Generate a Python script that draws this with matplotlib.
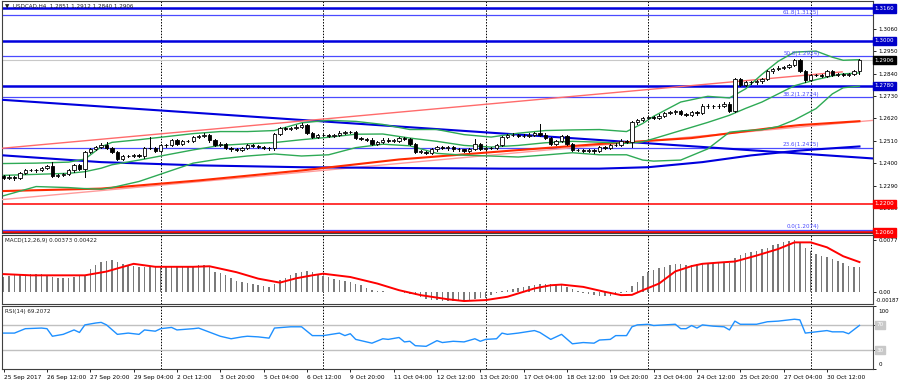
import matplotlib
matplotlib.use('Agg')
import matplotlib.pyplot as plt

# ---- H4 candles, bar 0 = 25 Sep 04:00 ----
first_open = 1.2335
closes = [
    1.2329, 1.2333, 1.2325, 1.2351, 1.2367, 1.2367, 1.2364, 1.2377, 1.2384, 1.2335,
    1.2343, 1.2348, 1.2364, 1.2389, 1.2373, 1.2454, 1.2470, 1.2478, 1.2491, 1.2475,
    1.2454, 1.2421, 1.2433, 1.2436, 1.2438, 1.2433, 1.2475, 1.2475, 1.2462, 1.2487,
    1.2487, 1.2512, 1.2496, 1.2508, 1.2508, 1.2529, 1.2534, 1.2540, 1.2512, 1.2491,
    1.2496, 1.2475, 1.2468, 1.2464, 1.2475, 1.2488, 1.2483, 1.2480, 1.2476, 1.2472,
    1.2545, 1.2573, 1.2570, 1.2573, 1.2579, 1.2589, 1.2550, 1.2529, 1.2537, 1.2537,
    1.2534, 1.2537, 1.2550, 1.2553, 1.2552, 1.2522, 1.2519, 1.2516, 1.2495, 1.2503,
    1.2516, 1.2511, 1.2511, 1.2522, 1.2519, 1.2495, 1.2457, 1.2457, 1.2451, 1.2467,
    1.2478, 1.2473, 1.2478, 1.2467, 1.2467, 1.2462, 1.2470, 1.2495, 1.2470, 1.2473,
    1.2473, 1.2487, 1.2527, 1.2539, 1.2538, 1.2534, 1.2535, 1.2540, 1.2547, 1.2540,
    1.2524, 1.2495, 1.2508, 1.2531, 1.2495, 1.2465, 1.2465, 1.2462, 1.2465, 1.2459,
    1.2478, 1.2475, 1.2487, 1.2491, 1.2511, 1.2503, 1.2600, 1.2612, 1.2622, 1.2625,
    1.2622, 1.2633, 1.2644, 1.2649, 1.2654, 1.2640, 1.2636, 1.2652, 1.2644, 1.2682,
    1.2679, 1.2679, 1.2682, 1.2690, 1.2658, 1.2813, 1.2785, 1.2796, 1.2796, 1.2801,
    1.2813, 1.2850, 1.2862, 1.2869, 1.2873, 1.2883, 1.2906, 1.2853, 1.2808, 1.2834,
    1.2832, 1.2830, 1.2850, 1.2832, 1.2837, 1.2834, 1.2837, 1.2851, 1.2906]
highs = [
    1.2342, 1.2340, 1.2338, 1.2356, 1.2372, 1.2373, 1.2372, 1.2382, 1.2390, 1.2405,
    1.2348, 1.2353, 1.2370, 1.2395, 1.2398, 1.2460, 1.2476, 1.2485, 1.2497, 1.2503,
    1.2480, 1.2458, 1.2438, 1.2441, 1.2443, 1.2443, 1.2480, 1.2527, 1.2480, 1.2492,
    1.2494, 1.2518, 1.2518, 1.2513, 1.2514, 1.2535, 1.2540, 1.2546, 1.2545, 1.2517,
    1.2502, 1.2501, 1.2480, 1.2473, 1.2480, 1.2493, 1.2492, 1.2488, 1.2485, 1.2481,
    1.2550, 1.2579, 1.2578, 1.2579, 1.2585, 1.2595, 1.2594, 1.2555, 1.2543, 1.2543,
    1.2541, 1.2542, 1.2556, 1.2559, 1.2560, 1.2557, 1.2527, 1.2524, 1.2521, 1.2508,
    1.2521, 1.2521, 1.2517, 1.2528, 1.2527, 1.2524, 1.2500, 1.2463, 1.2462, 1.2472,
    1.2484, 1.2483, 1.2484, 1.2483, 1.2473, 1.2471, 1.2476, 1.2519, 1.2500, 1.2479,
    1.2479, 1.2492, 1.2533, 1.2545, 1.2546, 1.2543, 1.2541, 1.2546, 1.2553, 1.2592,
    1.2546, 1.2529, 1.2513, 1.2537, 1.2536, 1.2500, 1.2471, 1.2470, 1.2471, 1.2470,
    1.2484, 1.2484, 1.2492, 1.2497, 1.2517, 1.2516, 1.2606, 1.2618, 1.2628, 1.2631,
    1.2632, 1.2639, 1.2650, 1.2655, 1.2660, 1.2659, 1.2646, 1.2658, 1.2658, 1.2688,
    1.2688, 1.2686, 1.2688, 1.2700, 1.2700, 1.2820, 1.2818, 1.2802, 1.2803, 1.2807,
    1.2819, 1.2856, 1.2868, 1.2875, 1.2879, 1.2889, 1.2912, 1.2911, 1.2858, 1.2840,
    1.2840, 1.2838, 1.2856, 1.2855, 1.2843, 1.2842, 1.2843, 1.2856, 1.2912]
lows = [
    1.2322, 1.2322, 1.2316, 1.2320, 1.2346, 1.2360, 1.2358, 1.2360, 1.2372, 1.2330,
    1.2330, 1.2338, 1.2342, 1.2358, 1.2367, 1.2331, 1.2448, 1.2465, 1.2472, 1.2470,
    1.2449, 1.2415, 1.2416, 1.2428, 1.2431, 1.2428, 1.2425, 1.2468, 1.2456, 1.2457,
    1.2480, 1.2482, 1.2490, 1.2491, 1.2502, 1.2503, 1.2524, 1.2529, 1.2506, 1.2485,
    1.2486, 1.2470, 1.2462, 1.2458, 1.2459, 1.2470, 1.2478, 1.2475, 1.2471, 1.2466,
    1.2466, 1.2540, 1.2564, 1.2565, 1.2568, 1.2574, 1.2545, 1.2523, 1.2524, 1.2531,
    1.2528, 1.2529, 1.2532, 1.2545, 1.2546, 1.2517, 1.2513, 1.2510, 1.2489, 1.2490,
    1.2498, 1.2505, 1.2505, 1.2506, 1.2513, 1.2490, 1.2451, 1.2450, 1.2445, 1.2446,
    1.2462, 1.2467, 1.2466, 1.2461, 1.2461, 1.2456, 1.2457, 1.2465, 1.2465, 1.2465,
    1.2467, 1.2468, 1.2482, 1.2521, 1.2532, 1.2528, 1.2528, 1.2530, 1.2535, 1.2535,
    1.2518, 1.2489, 1.2490, 1.2503, 1.2489, 1.2459, 1.2458, 1.2456, 1.2457, 1.2452,
    1.2454, 1.2469, 1.2470, 1.2482, 1.2486, 1.2497, 1.2478, 1.2594, 1.2606, 1.2616,
    1.2615, 1.2616, 1.2628, 1.2639, 1.2643, 1.2634, 1.2630, 1.2631, 1.2638, 1.2639,
    1.2673, 1.2672, 1.2673, 1.2676, 1.2650, 1.2650, 1.2778, 1.2780, 1.2789, 1.2790,
    1.2795, 1.2808, 1.2844, 1.2856, 1.2864, 1.2867, 1.2877, 1.2847, 1.2800, 1.2803,
    1.2826, 1.2824, 1.2825, 1.2826, 1.2827, 1.2828, 1.2829, 1.2831, 1.2840]

# Bollinger bands (20, 2), read at sample bars
bb_bars = [0, 6, 12, 15, 18, 20, 25, 30, 35, 40, 45, 50, 55, 60, 65, 70, 75, 80, 85, 90,
           95, 100, 105, 110, 115, 118, 120, 125, 130, 134, 137, 140, 143, 146, 150, 153, 155, 158]
bb_upper = [1.2398, 1.2400, 1.2405, 1.2420, 1.2480, 1.2502, 1.2515, 1.2530, 1.2545, 1.2555,
            1.2555, 1.2560, 1.2598, 1.2610, 1.2605, 1.2590, 1.2565, 1.2565, 1.2540, 1.2528,
            1.2547, 1.2560, 1.2563, 1.2565, 1.2555, 1.2595, 1.2630, 1.2700, 1.2728, 1.2720,
            1.2765, 1.2836, 1.2900, 1.2945, 1.2950, 1.2920, 1.2905, 1.2908]
bb_mid = [1.2340, 1.2345, 1.2350, 1.2358, 1.2375, 1.2392, 1.2415, 1.2440, 1.2465, 1.2487,
          1.2495, 1.2501, 1.2515, 1.2527, 1.2542, 1.2543, 1.2523, 1.2507, 1.2487, 1.2479,
          1.2487, 1.2500, 1.2507, 1.2503, 1.2497, 1.2505, 1.2520, 1.2560, 1.2600, 1.2635,
          1.2669, 1.2700, 1.2740, 1.2780, 1.2810, 1.2828, 1.2838, 1.2843]
bb_lower = [1.2240, 1.2285, 1.2280, 1.2275, 1.2272, 1.2280, 1.2310, 1.2355, 1.2400, 1.2421,
            1.2435, 1.2445, 1.2435, 1.2441, 1.2476, 1.2493, 1.2485, 1.2448, 1.2439, 1.2435,
            1.2430, 1.2440, 1.2451, 1.2441, 1.2441, 1.2415, 1.2410, 1.2415, 1.2470, 1.2552,
            1.2560, 1.2564, 1.2580, 1.2612, 1.2668, 1.2740, 1.2770, 1.2778]

# moving averages (blue and red), read at sample bars
ma_blue_bars = [0, 18, 36, 55, 73, 92, 110, 119, 129, 138, 147, 158]
ma_blue = [1.2438, 1.2405, 1.2389, 1.2380, 1.2376, 1.2373, 1.2373, 1.2380, 1.2405, 1.2438, 1.2462, 1.2482]
ma_red_bars = [0, 18, 36, 55, 73, 94, 110, 127, 141, 147, 158]
ma_red = [1.2263, 1.2275, 1.2315, 1.2364, 1.2418, 1.2462, 1.2494, 1.2523, 1.2570, 1.2587, 1.2606]

# trend lines: (bar, price) end points
trend_blue = [(-0.3, 1.2711), (160.5, 1.2423)]
chan_upper = [(-0.3, 1.2473), (154.8, 1.2848)]
chan_lower = [(-0.3, 1.2221), (160.5, 1.2610)]

# horizontal levels
blue_levels = [1.3160, 1.3000, 1.2780]
red_levels = [1.2200, 1.2060]
fib_pct = ['61.8', '50.0', '38.2', '23.6', '0.0']
fib_levels = [1.3125, 1.2924, 1.2724, 1.2475, 1.2074]
bid = 1.2906
price_ticks = [1.2180, 1.2290, 1.2400, 1.2510, 1.2620, 1.2730, 1.2840, 1.2950, 1.3060]

# MACD(12,26,9)
macd_hist = [
    0.00219, 0.00234, 0.00244, 0.00253, 0.00253, 0.00258, 0.00268, 0.00268, 0.00253, 0.00219,
    0.00205, 0.00205, 0.00210, 0.00219, 0.00234, 0.00253, 0.00340, 0.00400, 0.00440, 0.00463,
    0.00468, 0.00440, 0.00410, 0.00390, 0.00375, 0.00360, 0.00360, 0.00365, 0.00360, 0.00365,
    0.00365, 0.00370, 0.00365, 0.00365, 0.00370, 0.00380, 0.00390, 0.00395, 0.00360, 0.00300,
    0.00275, 0.00244, 0.00200, 0.00165, 0.00140, 0.00125, 0.00110, 0.00095, 0.00080, 0.00075,
    0.00122, 0.00170, 0.00210, 0.00250, 0.00285, 0.00300, 0.00307, 0.00290, 0.00260, 0.00240,
    0.00215, 0.00195, 0.00180, 0.00165, 0.00146, 0.00120, 0.00095, 0.00060, 0.00020, 0.00005,
    0.00005, 0.00003, 0.00002, 0.00000, -0.00010, -0.00030, -0.00050, -0.00080, -0.00110, -0.00120,
    -0.00125, -0.00130, -0.00135, -0.00130, -0.00130, -0.00130, -0.00125, -0.00100, -0.00095, -0.00085,
    -0.00050, -0.00020, 0.00015, 0.00030, 0.00045, 0.00060, 0.00075, 0.00090, 0.00105, 0.00118,
    0.00122, 0.00110, 0.00100, 0.00095, 0.00075, 0.00040, 0.00010, -0.00015, -0.00035, -0.00050,
    -0.00055, -0.00060, -0.00055, -0.00045, -0.00020, 0.00010, 0.00080, 0.00150, 0.00230, 0.00300,
    0.00330, 0.00350, 0.00370, 0.00390, 0.00405, 0.00405, 0.00400, 0.00395, 0.00410, 0.00425,
    0.00430, 0.00430, 0.00432, 0.00435, 0.00430, 0.00500, 0.00540, 0.00570, 0.00590, 0.00610,
    0.00630, 0.00655, 0.00685, 0.00710, 0.00730, 0.00745, 0.00770, 0.00740, 0.00650, 0.00600,
    0.00560, 0.00530, 0.00510, 0.00480, 0.00455, 0.00420, 0.00385, 0.00360, 0.00373]
sig_bars = [0, 5, 15, 19, 24, 28, 35, 38, 43, 47, 51, 54, 57, 59, 64, 69, 73, 77, 82, 85,
            89, 93, 98, 101, 103, 107, 111, 114, 116, 118, 121, 124, 127, 129, 133, 135, 139,
            143, 146, 149, 152, 155, 158]
sig_vals = [0.00262, 0.00244, 0.00244, 0.00300, 0.00414, 0.00370, 0.00370, 0.00378, 0.00290,
            0.00195, 0.00136, 0.00200, 0.00244, 0.00268, 0.00219, 0.00122, 0.00024, -0.00049,
            -0.00110, -0.00136, -0.00122, -0.00073, 0.00050, 0.00097, 0.00107, 0.00073, 0.00000,
            -0.00049, -0.00045, 0.00024, 0.00122, 0.00302, 0.00380, 0.00414, 0.00438, 0.00448,
            0.00536, 0.00633, 0.00731, 0.00731, 0.00658, 0.00526, 0.00440]

# RSI(14), read at sample bars
rsi_bars = [0, 2, 4, 7, 8, 9, 11, 13, 14, 15, 17, 18, 19, 21, 23, 25, 26, 28, 29, 31, 32, 35, 36,
            40, 42, 44, 45, 47, 49, 50, 53, 55, 57, 59, 62, 63, 64, 65, 68, 70, 71, 73, 74, 75,
            76, 78, 80, 81, 83, 85, 87, 88, 89, 91, 92, 93, 95, 98, 99, 101, 103, 105, 107, 109,
            110, 112, 113, 115, 116, 117, 119, 120, 122, 124, 125, 126, 127, 128, 129, 131, 133,
            134, 135, 136, 139, 141, 143, 146, 147, 148, 150, 152, 153, 155, 156, 158]
rsi_vals = [57, 57, 64, 65, 64, 52, 55, 62, 58, 70, 73, 74, 70, 55, 57, 55, 62, 60, 64, 66, 62, 64, 65,
            52, 48, 51, 52, 51, 49, 65, 67, 67, 53, 53, 57, 53, 56, 47, 41, 48, 47, 50, 43, 44,
            37, 36, 45, 42, 44, 43, 48, 44, 47, 48, 57, 55, 57, 61, 58, 47, 55, 40, 42, 41,
            46, 47, 53, 53, 67, 70, 71, 69, 70, 71, 64, 64, 69, 65, 70, 68, 67,
            62, 76, 71, 71, 75, 76, 79, 78, 57, 59, 61, 59, 59, 56, 69.2]

date_bars = [0, 8, 16, 24, 32, 40, 48, 56, 64, 72, 80, 88, 96, 104, 112, 120, 128, 136, 144, 152]
date_labels = ['25 Sep 2017', '26 Sep 12:00', '27 Sep 20:00', '29 Sep 04:00', '2 Oct 12:00',
               '3 Oct 20:00', '5 Oct 04:00', '6 Oct 12:00', '9 Oct 20:00', '11 Oct 04:00',
               '12 Oct 12:00', '13 Oct 20:00', '17 Oct 04:00', '18 Oct 12:00', '19 Oct 20:00',
               '23 Oct 04:00', '24 Oct 12:00', '25 Oct 20:00', '27 Oct 04:00', '30 Oct 12:00']
week_bars = [29, 59, 89, 119, 149]

FS = 4.1
W, H = 900, 384
fig = plt.figure(figsize=(9, 3.84), dpi=100)


def panel(x0, y0, x1, y1):
    a = fig.add_axes([x0 / W, 1 - y1 / H, (x1 - x0) / W, (y1 - y0) / H])
    a.set_xlim(-0.3, 160.5)
    for s in a.spines.values():
        s.set_color('#404040')
        s.set_linewidth(0.8)
    a.yaxis.tick_right()
    a.tick_params(axis='y', length=2.5, width=0.6, pad=1.5, labelsize=FS, colors='black')
    a.tick_params(axis='x', bottom=False, labelbottom=False)
    for wb in week_bars:
        a.axvline(wb, color='black', lw=0.7, ls=(0, (1.5, 1.5)), zorder=1)
    return a


ax = panel(2, 1, 873, 233)
am = panel(2, 235, 873, 304)
ar = panel(2, 306, 873, 369)

# ---- main panel ----
ax.set_ylim(1.2057, 1.3196)
ax.set_yticks(price_ticks)
ax.set_yticklabels(['%.4f' % p for p in price_ticks])

for lv in blue_levels:
    ax.axhline(lv, color='#0000dd', lw=1.8, zorder=2)
ax.axhline(red_levels[0], color='#ff0000', lw=1.1, zorder=2)
ax.axhline(red_levels[1], color='#ee0000', lw=2.0, zorder=2)
for pct, lv in zip(fib_pct, fib_levels):
    ax.axhline(lv, color='#4a4aff', lw=0.9, zorder=2)
    ax.text(150.6, lv + 0.0002, '%s(%.4f)' % (pct, lv), color='#4a4aff', fontsize=FS,
            ha='right', va='bottom', zorder=6)
ax.axhline(bid, color='#c8c8c8', lw=0.8, zorder=1)

ax.plot([p[0] for p in trend_blue], [p[1] for p in trend_blue], color='#0000dd', lw=1.5, zorder=3)
ax.plot([p[0] for p in chan_upper], [p[1] for p in chan_upper], color='#ff6b6b', lw=1.0, zorder=3)
ax.plot([p[0] for p in chan_lower], [p[1] for p in chan_lower], color='#ff9b9b', lw=1.0, zorder=3)
ax.plot(ma_blue_bars, ma_blue, color='#0000dd', lw=1.5, zorder=3)
ax.plot(ma_red_bars, ma_red, color='#ff2a00', lw=1.5, zorder=3)
for band in (bb_upper, bb_mid, bb_lower):
    ax.plot(bb_bars, band, color='#2eaa55', lw=1.0, zorder=3)

opens = [first_open] + closes[:-1]
for i, (o, h, l, c) in enumerate(zip(opens, highs, lows, closes)):
    ax.plot([i, i], [l, h], color='black', lw=0.7, zorder=4)
    lo, hi = min(o, c), max(o, c)
    ax.bar(i, max(hi - lo, 0.00004), bottom=lo, width=0.62,
           color='black' if c < o else 'white', edgecolor='black', linewidth=0.6, zorder=5)

ax.text(0.004, 0.992, '\u25bc  USDCAD,H4  1.2851 1.2912 1.2840 1.2906', transform=ax.transAxes,
        fontsize=FS, va='top', ha='left', color='#202020', zorder=7)

boxes = [(blue_levels[0], '#0000c8'), (blue_levels[1], '#0000c8'), (bid, '#000000'),
         (blue_levels[2], '#0000c8'), (red_levels[0], '#ff0000'), (red_levels[1], '#ff0000')]
for lv, col in boxes:
    ax.text(1.002, lv, '%.4f' % lv, transform=ax.get_yaxis_transform(), fontsize=FS,
            color='white', ha='left', va='center', clip_on=False, zorder=8,
            bbox=dict(boxstyle='square,pad=0.3', fc=col, ec=col))

# ---- MACD panel ----
am.set_ylim(-0.0018, 0.0084)
am.bar(range(len(macd_hist)), macd_hist, width=0.28, color='#7a7a7a', zorder=3)
am.plot(sig_bars, sig_vals, color='#ff0000', lw=1.4, zorder=4)
am.set_yticks([0.0077, 0.0])
am.set_yticklabels(['0.0077', '0.00'])
am.text(1.003, 0.02, '-0.00187', transform=am.transAxes, fontsize=3.8, ha='left', va='bottom',
        clip_on=False)
am.text(0.004, 0.96, 'MACD(12,26,9) 0.00373 0.00422', transform=am.transAxes,
        fontsize=FS, va='top', ha='left', color='#202020')

# ---- RSI panel ----
ar.set_ylim(0, 100)
ar.axhline(70, color='#c0c0c0', lw=1.0, zorder=2)
ar.axhline(30, color='#c0c0c0', lw=1.0, zorder=2)
ar.plot(rsi_bars, rsi_vals, color='#1e90ff', lw=1.0, zorder=3)
ar.set_yticks([100, 70, 30, 0])
ar.set_yticklabels(['', '', '', ''])
ar.text(1.006, 0.92, '100', transform=ar.transAxes, fontsize=FS, ha='left', va='center',
        clip_on=False)
ar.text(1.006, 0.07, '0', transform=ar.transAxes, fontsize=FS, ha='left', va='center',
        clip_on=False)
for lv in (70, 30):
    ar.text(1.004, lv, '%d' % lv, transform=ar.get_yaxis_transform(), fontsize=FS, color='white',
            ha='left', va='center', clip_on=False,
            bbox=dict(boxstyle='square,pad=0.2', fc='#c8c8c8', ec='#c8c8c8'))
ar.text(0.004, 0.96, 'RSI(14) 69.2072', transform=ar.transAxes,
        fontsize=FS, va='top', ha='left', color='#202020')

ar.tick_params(axis='x', bottom=True, labelbottom=True, length=2.5, width=0.6,
               pad=1.5, labelsize=4.2)
ar.set_xticks(date_bars)
ar.set_xticklabels(date_labels, ha='left')

fig.savefig('out.png', dpi=100, facecolor='white')
